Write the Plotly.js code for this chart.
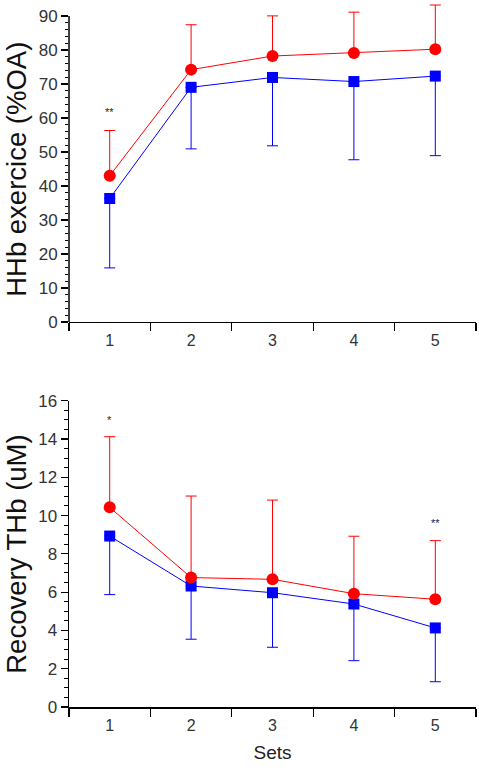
<!DOCTYPE html>
<html>
<head>
<meta charset="utf-8">
<script src="https://cdn.plot.ly/plotly-3.0.1.min.js"></script>
<style>
  html, body { margin: 0; padding: 0; background: #fff; }
  #chart { width: 479px; height: 771px; }
</style>
</head>
<body>
<div id="chart"></div>
<script>
// Sets on the x axis
const sets = ["1", "2", "3", "4", "5"];

// HHb during exercise (%OA): means and one-sided SD
const hhbRed = [43, 74.2, 78.2, 79.1, 80.2];
const hhbRedSdUp = [13.3, 13.2, 11.8, 12.0, 13.0];
const hhbBlue = [36.3, 69.0, 71.9, 70.7, 72.3];
const hhbBlueSdDown = [20.4, 18.1, 20.1, 23.0, 23.4];

// Recovery THb (uM): means and one-sided SD
const thbRed = [10.43, 6.76, 6.67, 5.92, 5.63];
const thbRedSdUp = [3.69, 4.26, 4.14, 3.0, 3.06];
const thbBlue = [8.93, 6.32, 5.97, 5.38, 4.13];
const thbBlueSdDown = [3.06, 2.78, 2.85, 2.96, 2.81];

// Axis ticks
const hhbTicks = [0, 10, 20, 30, 40, 50, 60, 70, 80, 90];
const hhbMinor = [0, 2, 4, 6, 8, 10, 12, 14, 16, 18, 20, 22, 24, 26, 28, 30, 32, 34, 36, 38, 40,
                  42, 44, 46, 48, 50, 52, 54, 56, 58, 60, 62, 64, 66, 68, 70, 72, 74, 76, 78, 80,
                  82, 84, 86, 88, 90];
const thbTicks = [0, 2, 4, 6, 8, 10, 12, 14, 16];

// Titles
const hhbTitle = "HHb exercice (%OA)";
const thbTitle = "Recovery THb (uM)";
const setsTitle = "Sets";

// Significance marks
const hhbMarks = [{ set: "1", y: 61.6, text: "**" }];
const thbMarks = [{ set: "1", y: 15.0, text: "*" }, { set: "5", y: 9.6, text: "**" }];

const RED = "#ff0000";
const BLUE = "#0000ff";
const FONT = "Liberation Sans, Arial, sans-serif";

function series(y, err, color, symbol, dir, xa, ya) {
  const e = { type: "data", visible: true, color: color, thickness: 1, width: 5.5, symmetric: false };
  if (dir === "up") { e.array = err; e.arrayminus = err.map(() => 0); }
  else { e.array = err.map(() => 0); e.arrayminus = err; }
  return {
    x: sets, y: y, xaxis: xa, yaxis: ya, type: "scatter", mode: "lines+markers",
    cliponaxis: false,
    line: { color: color, width: 1 },
    marker: { color: color, symbol: symbol, size: symbol === "square" ? 11 : 12 },
    error_y: e, showlegend: false, hoverinfo: "skip"
  };
}

const traces = [
  series(hhbBlue, hhbBlueSdDown, BLUE, "square", "down", "x", "y"),
  series(hhbRed, hhbRedSdUp, RED, "circle", "up", "x", "y"),
  series(thbBlue, thbBlueSdDown, BLUE, "square", "down", "x2", "y2"),
  series(thbRed, thbRedSdUp, RED, "circle", "up", "x2", "y2")
];

function xAxis(anchor, title) {
  const ax = {
    anchor: anchor, type: "category", range: [-0.5, 4.5], tickson: "boundaries",
    ticks: "outside", ticklen: 8, tickwidth: 1.2, tickcolor: "#000", ticklabelstandoff: 3,
    showline: true, linecolor: "#000", linewidth: 1.5, showgrid: false, zeroline: false,
    tickfont: { family: FONT, size: 16, color: "#333" }, domain: [0, 1]
  };
  if (title) ax.title = { text: title, font: { family: FONT, size: 19, color: "#222" }, standoff: 13 };
  return ax;
}

function yAxis(anchor, domain, range, ticks, minor, showline) {
  return {
    anchor: anchor, domain: domain, range: range, tickmode: "array", tickvals: ticks,
    ticks: "outside", ticklen: 7, tickwidth: 1.2, tickcolor: "#000",
    minor: Object.assign({ ticks: "outside", ticklen: 3.5, tickwidth: 1, tickcolor: "#000", showgrid: false }, minor),
    showline: showline, linecolor: "#000", linewidth: 1.5, showgrid: false, zeroline: false,
    tickfont: { family: FONT, size: 17, color: "#333" }
  };
}

const annotations = [];
hhbMarks.forEach(m => annotations.push({ xref: "x", yref: "y", x: sets.indexOf(m.set), y: m.y, text: m.text, showarrow: false, font: { family: FONT, size: 11, color: "#223" } }));
thbMarks.forEach(m => annotations.push({ xref: "x2", yref: "y2", x: sets.indexOf(m.set), y: m.y, text: m.text, showarrow: false, font: { family: FONT, size: 11, color: "#223" } }));

// Rotated y titles, centred on each panel's labelled span
const titleFont = { family: FONT, size: 27.5, color: "#111" };
annotations.push({ xref: "paper", yref: "y", x: -0.128, y: hhbTicks[hhbTicks.length - 1] / 2, text: hhbTitle,
  textangle: -90, showarrow: false, xanchor: "center", yanchor: "middle", font: titleFont });
annotations.push({ xref: "paper", yref: "y2", x: -0.128, y: thbTicks[thbTicks.length - 1] / 2, text: thbTitle,
  textangle: -90, showarrow: false, xanchor: "center", yanchor: "middle", font: titleFont });

// Top panel keeps headroom above 90 for the error bars, so its axis line stops at the last tick
const shapes = [{
  type: "line", xref: "x domain", yref: "y", x0: 0, x1: 0, y0: 0, y1: hhbTicks[hhbTicks.length - 1],
  line: { color: "#000", width: 1.5 }
}];

const layout = {
  width: 479, height: 771,
  margin: { l: 69, r: 3, t: 4, b: 64 },
  paper_bgcolor: "#fff", plot_bgcolor: "#fff",
  xaxis: xAxis("y", null),
  yaxis: yAxis("x", [0.5477, 1], [0, 93.5], hhbTicks, { tickmode: "array", tickvals: hhbMinor }, false),
  xaxis2: xAxis("y2", setsTitle),
  yaxis2: yAxis("x2", [0, 0.4357], [0, 16], thbTicks, { dtick: 0.5, tick0: 0 }, true),
  annotations: annotations,
  shapes: shapes
};

Plotly.newPlot("chart", traces, layout, { staticPlot: true, displayModeBar: false });
</script>
</body>
</html>
